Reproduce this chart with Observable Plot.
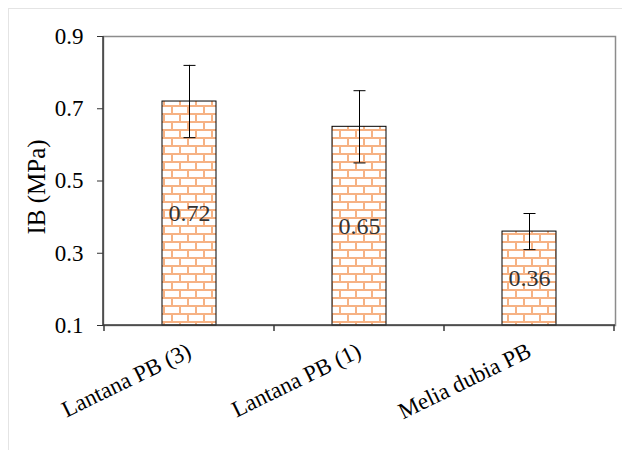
<!DOCTYPE html>
<html>
<head>
<meta charset="utf-8">
<script src="https://cdn.jsdelivr.net/npm/d3@7"></script>
<script src="https://cdn.jsdelivr.net/npm/@observablehq/plot@0.6"></script>
<style>
  html, body { margin: 0; padding: 0; background: #fff; overflow: hidden; width: 622px; height: 450px; }
  #border { position: absolute; left: 8px; top: 8px; width: 800px; height: 600px; border: 1px solid #e4e4e4; box-sizing: border-box; }
  #chart { position: absolute; left: 0; top: 0; }
</style>
</head>
<body>
<div id="border"></div>
<div id="chart"></div>
<script>
const categories = ["Lantana PB (3)", "Lantana PB (1)", "Melia dubia PB"];
const values = [0.72, 0.65, 0.36];
const errLow = [0.62, 0.55, 0.31];
const errHigh = [0.82, 0.75, 0.41];
const yTicks = [0.1, 0.3, 0.5, 0.7, 0.9];
const yLabel = "IB (MPa)";
const yBase = 0.1;

const data = categories.map((c, i) => ({cat: c, value: values[i], lo: errLow[i], hi: errHigh[i]}));

const FONT = "'Liberation Serif', 'Times New Roman', serif";
const cap = {draw(ctx) { ctx.moveTo(-6, 0); ctx.lineTo(6, 0); }};

const plot = Plot.plot({
  width: 622,
  height: 450,
  marginLeft: 103,
  marginRight: 7,
  marginTop: 36,
  marginBottom: 125,
  x: {domain: categories, paddingInner: 0.684, paddingOuter: 0.342, label: null},
  y: {domain: [0.1, 0.9], label: null},
  marks: [
    Plot.frame({stroke: "#8c8c8c", strokeWidth: 1.5}),
    Plot.barY(data, {x: "cat", y1: () => yBase, y2: "value", fill: "url(#brick)", stroke: "#000", strokeWidth: 1}),
    Plot.ruleX(data, {x: "cat", y1: "lo", y2: "hi", stroke: "#000", strokeWidth: 1}),
    Plot.dot(data, {x: "cat", y: "lo", symbol: cap, stroke: "#000", strokeWidth: 1, fill: "none", r: 6}),
    Plot.dot(data, {x: "cat", y: "hi", symbol: cap, stroke: "#000", strokeWidth: 1, fill: "none", r: 6}),
    Plot.text(data, {x: "cat", y: d => (yBase + d.value) / 2, text: d => d.value.toFixed(2), fontSize: 24, fill: "#333", fontFamily: FONT}),
    Plot.axisY({ticks: yTicks, tickFormat: d => d.toFixed(1), tickSize: 6, tickPadding: 14, fontSize: 23, fill: "#000", stroke: "#333", label: null, fontFamily: FONT}),
    Plot.text([yLabel], {frameAnchor: "left", textAnchor: "middle", dx: -67, dy: 6, rotate: -90, fontSize: 25, fill: "#000", fontFamily: FONT}),
    Plot.axisX({tickSize: 0, tickPadding: 24, tickRotate: -26, fontSize: 23, fill: "#000", fontFamily: FONT, label: null})
  ]
});

const svg = d3.select(plot.tagName.toLowerCase() === "svg" ? plot : plot.querySelector("svg"));
const defs = svg.insert("defs", ":first-child");
const pat = defs.append("pattern").attr("id", "brick").attr("patternUnits", "userSpaceOnUse")
  .attr("width", 16).attr("height", 16).attr("x", 0).attr("y", 1);
const mortar = "#f6b284";
pat.append("rect").attr("width", 16).attr("height", 16).attr("fill", "#fff");
pat.append("rect").attr("x", 0).attr("y", 0).attr("width", 16).attr("height", 2).attr("fill", mortar);
pat.append("rect").attr("x", 0).attr("y", 8).attr("width", 16).attr("height", 2).attr("fill", mortar);
pat.append("rect").attr("x", 3).attr("y", 0).attr("width", 2).attr("height", 8).attr("fill", mortar);
pat.append("rect").attr("x", 11).attr("y", 8).attr("width", 2).attr("height", 8).attr("fill", mortar);

const xs = plot.scale("x");
const ys = plot.scale("y");
const y0 = ys.apply(0.1);
const yTop = ys.apply(0.9);
const xLeft = xs.range[0], xRight = xs.range[1];
const g = svg.append("g").attr("stroke", "#3a3a3a").attr("stroke-width", 1.5);
g.append("line").attr("x1", xLeft).attr("x2", xLeft).attr("y1", yTop).attr("y2", y0);
g.append("line").attr("x1", xLeft).attr("x2", xRight).attr("y1", y0).attr("y2", y0);
const step = xs.step;
categories.forEach((c, i) => {
  const left = xs.apply(c) - (step - xs.bandwidth) / 2;
  g.append("line").attr("x1", left).attr("x2", left).attr("y1", y0).attr("y2", y0 + 6);
  if (i === categories.length - 1) {
    const r = left + step;
    g.append("line").attr("x1", r).attr("x2", r).attr("y1", y0).attr("y2", y0 + 6);
  }
});

document.getElementById("chart").appendChild(plot);
plot.querySelectorAll("text").forEach(t => { getComputedStyle(t).fontFamily; t.getBBox(); });
</script>
</body>
</html>
